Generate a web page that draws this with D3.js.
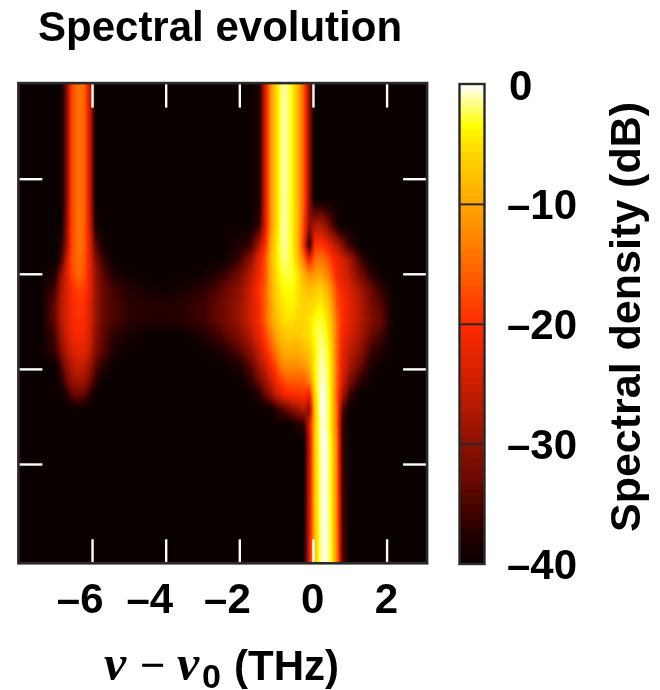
<!DOCTYPE html>
<html><head><meta charset="utf-8">
<script src="https://cdn.jsdelivr.net/npm/d3@7"></script>
<style>
html,body{margin:0;padding:0;background:#fff;}
#wrap{position:relative;width:660px;height:690px;overflow:hidden;}
canvas{position:absolute;left:0;top:0;}
svg{position:absolute;left:0;top:0;}
text{font-family:"Liberation Sans",Arial,sans-serif;font-weight:700;fill:#000;}
</style></head><body><div id="wrap"></div>
<script>
const titleText = "Spectral evolution";
const xTicks = [-6,-4,-2,0,2];
const yTicks = [1,2,3,4];
const barTicks = [0,-10,-20,-30,-40];
const barTitle = "Spectral density (dB)";
const freqTHz = [-8,-7.4,-7,-6.85,-6.7,-6.55,-6.36,-6.2,-6.05,-5.9,-5.7,-5.4,-5,-4.5,-4,-3.5,-3,-2.5,-2,
 -1.7,-1.45,-1.3,-1.15,-1,-0.85,-0.7,-0.55,-0.4,-0.25,-0.1,0.05,0.2,0.35,0.5,0.65,0.8,
 1,1.3,1.6,1.9,2.2,2.6,3.1];
const distance = [0,1.22,1.49,1.7,1.85,2.01,2.17,2.33,2.49,2.64,2.8,2.96,3.12,3.27,3.43,3.59,3.75,5.04];
const densityDb = [
[-40,-40,-40,-40,-32,-18,-14,-16,-26,-40,-40,-40,-40,-40,-40,-40,-40,-40,-40, -40,-38,-24,-12,-6,-1.5,-1.5,-4,-9,-16,-30,-40,-40,-40,-40,-40,-40, -40,-40,-40,-40,-40,-40,-40],
[-40,-40,-40,-40,-32,-18,-14,-16,-26,-40,-40,-40,-40,-40,-40,-40,-40,-40,-40, -40,-38,-24,-12,-6,-1.5,-1.5,-4,-9,-16,-30,-40,-40,-40,-40,-40,-40, -40,-40,-40,-40,-40,-40,-40],
[-40,-40,-40,-40,-31,-18,-14,-16,-25,-39,-40,-40,-40,-40,-40,-40,-40,-40,-40, -40,-36,-24,-12,-6,-1.5,-1.5,-4,-9,-18,-30,-28,-27,-30,-34,-38,-40, -40,-40,-40,-40,-40,-40,-40],
[-40,-40,-40,-38,-30,-18,-14,-16,-24,-34,-39,-40,-40,-40,-40,-40,-40,-40,-38, -36,-27,-20,-10,-5,-1.5,-1.5,-4,-9,-20,-38,-20,-19,-21,-24,-27,-31, -36,-40,-40,-40,-40,-40,-40],
[-40,-40,-40,-36,-26,-17,-14.5,-16.5,-23,-31,-36,-40,-40,-40,-40,-40,-40,-40,-36, -30,-22,-17,-9,-4.5,-2,-2,-3.5,-8,-14,-22,-15,-14,-15.5,-19,-22,-24, -28,-36,-40,-40,-40,-40,-40],
[-40,-40,-38,-30,-24,-18,-15,-17,-23,-29,-34,-38,-39.5,-40,-40,-40,-39.5,-37,-32, -27,-21,-17,-10,-5.5,-3,-2.5,-3,-5,-9,-12,-11,-10,-12,-16,-21,-23, -26,-32,-37,-40,-40,-40,-40],
[-40,-40,-35,-28,-24,-20,-18,-19,-23,-29,-33,-35.5,-37.5,-39,-39.5,-38.5,-37,-34,-30, -25,-19,-16,-10,-6,-4,-3.5,-3.5,-5,-7,-8,-7,-6,-8,-12,-18,-21, -24,-28,-33,-37,-40,-40,-40],
[-40,-40,-33,-27,-24,-20.5,-19,-20,-24,-29,-33,-35,-37,-37.5,-37.5,-37,-36,-33,-29, -25,-20,-16,-11,-7,-5,-4,-4,-5,-6,-6,-5,-4,-6,-10,-17,-20, -23,-27,-32,-35,-40,-40,-40],
[-40,-40,-33,-27,-24,-21,-19.5,-20.5,-24,-29,-33,-35,-37,-37.5,-38,-37,-36,-33,-29, -25,-20,-16,-11,-8,-6,-5,-5,-6,-6,-5,-3.5,-2.5,-4,-8,-15,-20, -23,-27,-31,-34,-40,-40,-40],
[-40,-40,-35,-29,-25,-22,-20.5,-21.5,-25,-30,-34,-37,-38.5,-40,-40,-40,-38,-35,-31, -27,-22,-18,-14,-10,-8,-7,-7,-7,-6,-5,-3,-2,-3,-7,-15,-21, -24,-28,-33,-36,-40,-40,-40],
[-40,-40,-36,-31,-27,-24,-22.5,-23,-26,-31,-34,-38,-40,-40,-40,-40,-40,-38,-34, -30,-25,-21,-17,-13,-10,-9,-9,-9,-8,-7,-4,-1.5,-2,-6,-15,-22, -26,-30,-36,-38,-40,-40,-40],
[-40,-40,-40,-35,-30,-27,-25,-26,-29,-34,-37,-40,-40,-40,-40,-40,-40,-40,-38, -34,-28,-25,-21,-17,-13,-12,-12,-12,-11,-9,-4,-1,-1.5,-5,-15,-23, -28,-33,-38,-40,-40,-40,-40],
[-40,-40,-40,-38,-33,-29,-28,-29,-32,-37,-40,-40,-40,-40,-40,-40,-40,-40,-40, -37,-32,-29,-25,-21,-18,-16,-16,-16,-16,-13,-4,-0.8,-1,-5,-15,-24, -31,-37,-40,-40,-40,-40,-40],
[-40,-40,-40,-40,-38,-34,-33,-34,-37,-40,-40,-40,-40,-40,-40,-40,-40,-40,-40, -40,-37,-33,-30,-26,-23,-21,-20,-20,-19,-22,-6,-0.5,-0.5,-5,-16,-27, -36,-40,-40,-40,-40,-40,-40],
[-40,-40,-40,-40,-40,-40,-40,-40,-40,-40,-40,-40,-40,-40,-40,-40,-40,-40,-40, -40,-40,-40,-40,-37,-35,-33,-31,-29,-27,-30,-7,-0.5,-0.3,-5,-15,-34, -40,-40,-40,-40,-40,-40,-40],
[-40,-40,-40,-40,-40,-40,-40,-40,-40,-40,-40,-40,-40,-40,-40,-40,-40,-40,-40, -40,-40,-40,-40,-40,-40,-40,-39,-38,-37,-24,-7,-1,-0.3,-5,-15,-36, -40,-40,-40,-40,-40,-40,-40],
[-40,-40,-40,-40,-40,-40,-40,-40,-40,-40,-40,-40,-40,-40,-40,-40,-40,-40,-40, -40,-40,-40,-40,-40,-40,-40,-40,-40,-40,-26,-7,-1,0,-4,-14,-36, -40,-40,-40,-40,-40,-40,-40],
[-40,-40,-40,-40,-40,-40,-40,-40,-40,-40,-40,-40,-40,-40,-40,-40,-40,-40,-40, -40,-40,-40,-40,-40,-40,-40,-40,-40,-40,-24,-8,-1.5,0,-3,-13,-34, -40,-40,-40,-40,-40,-40,-40]
];
const colorStopsDb = [-40,-37,-33,-30,-25,-20,-15,-10,-5,-3.5,-1.5,0];
const colorStops = ["#0a0000","#2a0000","#6a0800","#8c1000","#cc1e00","#ff2a00","#ff6a00","#ffa600","#ffe000","#ffff00","#ffff90","#ffffff"];

const color = d3.scaleLinear().domain(colorStopsDb).range(colorStops).interpolate(d3.interpolateRgb).clamp(true);

const plot = {l:18.4, r:427.1, t:83.6, b:563.3};
const x = d3.scaleLinear().domain([-8,3.1]).range([plot.l,plot.r]);
const y = d3.scaleLinear().domain([0,5.05]).range([plot.t,plot.t+95.1*5.05]);
const barY = d3.scaleLinear().domain([0,-40]).range([84.5,564]);

const wrap = d3.select("#wrap");
const cv = wrap.append("canvas").attr("width",660).attr("height",690).node();
const ctx = cv.getContext("2d");
const bisect = (arr,v)=>Math.max(0,Math.min(arr.length-2,d3.bisectRight(arr,v)-1));
function sample(f,d){
  const i=bisect(freqTHz,f), j=bisect(distance,d);
  const tx=Math.max(0,Math.min(1,(f-freqTHz[i])/(freqTHz[i+1]-freqTHz[i])));
  const ty=Math.max(0,Math.min(1,(d-distance[j])/(distance[j+1]-distance[j])));
  const a=densityDb[j][i],b=densityDb[j][i+1],c=densityDb[j+1][i],e=densityDb[j+1][i+1];
  return (a*(1-tx)+b*tx)*(1-ty)+(c*(1-tx)+e*tx)*ty;
}
for(let py=Math.floor(plot.t);py<Math.ceil(plot.b);py++){
  for(let px=Math.floor(plot.l);px<Math.ceil(plot.r);px++){
    ctx.fillStyle=color(sample(x.invert(px+.5),y.invert(py+.5)));
    ctx.fillRect(px,py,1,1);
  }
}
// colour bar, in the 64 steps of the reference map
const levels = d3.range(64).map(i=>-40*i/64);
levels.forEach(v=>{
  ctx.fillStyle=color(v-0.3);
  const y0=barY(v),y1=barY(v-40/64);
  ctx.fillRect(459,Math.round(y0),25,Math.round(y1)-Math.round(y0));
});

const svg = wrap.append("svg").attr("width",660).attr("height",690);
svg.append("text").attr("x",38).attr("y",41).attr("font-size",42).text(titleText);

function styleTicks(g){
  g.select(".domain").remove();
  g.selectAll(".tick line").attr("stroke","#fff").attr("stroke-width",2.4);
}
svg.append("g").attr("transform",`translate(0,${plot.b})`)
  .call(d3.axisBottom(x).tickValues(xTicks).tickSize(-24).tickFormat(""))
  .call(styleTicks);
svg.append("g").attr("transform",`translate(0,${plot.t})`)
  .call(d3.axisTop(x).tickValues(xTicks).tickSize(-24).tickFormat(""))
  .call(styleTicks);
svg.append("g").attr("transform",`translate(${plot.l},0)`)
  .call(d3.axisLeft(y).tickValues(yTicks).tickSize(-24).tickFormat(""))
  .call(styleTicks);
svg.append("g").attr("transform",`translate(${plot.r},0)`)
  .call(d3.axisRight(y).tickValues(yTicks).tickSize(-24).tickFormat(""))
  .call(styleTicks);
svg.append("rect").attr("x",plot.l).attr("y",plot.t-.5).attr("width",plot.r-plot.l).attr("height",plot.b-plot.t+.5)
  .attr("fill","none").attr("stroke","#2a2a2a").attr("stroke-width",2.6);

const fmt = v => v<0 ? "\u2013"+Math.abs(v) : String(v);
svg.append("g").selectAll("text").data(xTicks).join("text")
  .attr("x",d=>x(d)+(d===-4?7.5:11.5)).attr("y",613).attr("text-anchor","end")
  .attr("font-size",42).text(fmt);

// x title
const xt = svg.append("text").attr("y",680).attr("font-size",42);
const serifFont = '"Liberation Serif",serif';
xt.append("tspan").attr("x",104).attr("font-family",serifFont).attr("font-style","italic").attr("font-size",50).text("\u03bd");
xt.append("tspan").attr("x",140).attr("font-family",serifFont).attr("font-size",45).text("\u2212");
xt.append("tspan").attr("x",177).attr("font-family",serifFont).attr("font-style","italic").attr("font-size",50).text("\u03bd");
xt.append("tspan").attr("x",202).attr("font-size",34).attr("dy",8).text("0");
xt.append("tspan").attr("x",234).attr("font-size",42).attr("dy",-8).text("(THz)");

// colour bar frame, ticks, labels
svg.append("rect").attr("x",459.5).attr("y",84).attr("width",25).attr("height",480)
  .attr("fill","none").attr("stroke","#2a2a2a").attr("stroke-width",2.4);
svg.append("g").selectAll("line").data(barTicks.slice(1,-1)).join("line")
  .attr("x1",459).attr("x2",484).attr("y1",d=>barY(d)).attr("y2",d=>barY(d))
  .attr("stroke","#2a2a2a").attr("stroke-width",2);
svg.append("g").selectAll("text").data(barTicks).join("text")
  .attr("x",d=>d===0?509:507).attr("y",d=>barY(d)+15).attr("font-size",42).text(fmt);
svg.append("text").attr("transform","translate(640,317) rotate(-90)")
  .attr("text-anchor","middle").attr("font-size",43).text(barTitle);
</script></body></html>
